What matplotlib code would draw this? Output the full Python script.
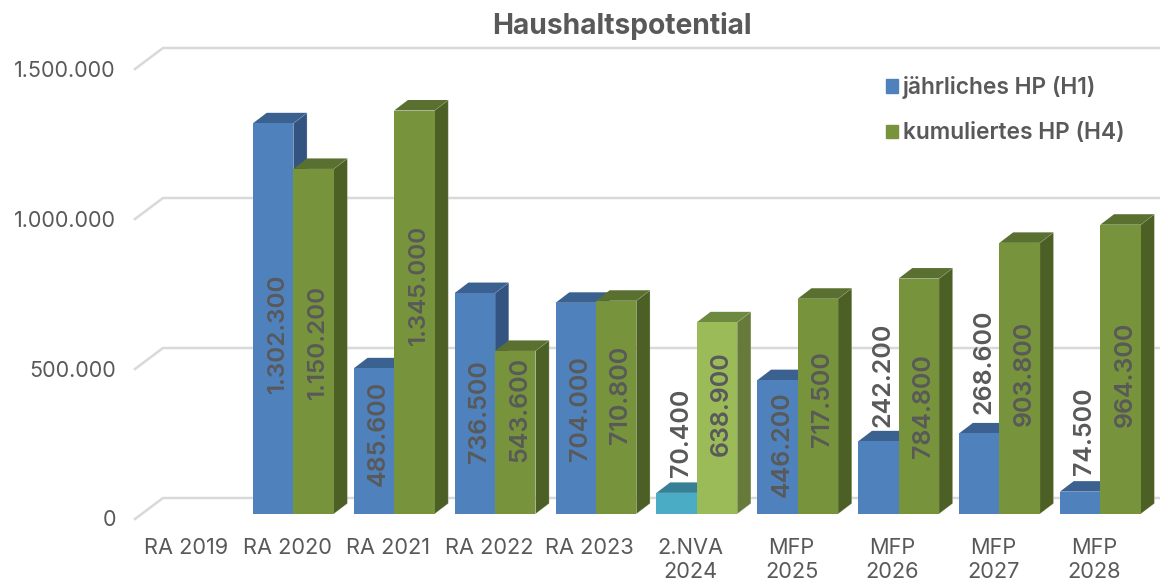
import matplotlib
matplotlib.use("Agg")
import matplotlib.pyplot as plt
from matplotlib.patches import Polygon, Patch

plt.rcParams["font.family"] = ["Inter", "DejaVu Sans"]

categories = ["RA 2019", "RA 2020", "RA 2021", "RA 2022", "RA 2023", "2.NVA\n2024",
              "MFP\n2025", "MFP\n2026", "MFP\n2027", "MFP\n2028"]
yearly = [0, 1302300, 485600, 736500, 704000, 70400, 446200, 242200, 268600, 74500]
cumulative = [0, 1150200, 1345000, 543600, 710800, 638900, 717500, 784800, 903800, 964300]
y_ticks = [0, 500000, 1000000, 1500000]

# where the value labels sit (value scale)
yearly_label_pos = [None, 603000, 268000, 343000, 350000, 270000, 233000, 463000, 507000, 277000]
cumulative_label_pos = [None, 572000, 763000, 350000, 397000, 367000, 383000, 360000, 470000, 467000]

BLUE = ("#4F81BD", "#3A6190", "#335480")
GREEN = ("#77933C", "#5A7030", "#4C5F24")
TEAL = ("#4BACC6", "#367F95", "#2F7086")
LIGHT_GREEN = ("#9BBB59", "#6E8A40", "#667B3A")
TEXT = "#595959"
GRID = "#D9D9D9"
EDGE = (1, 1, 1, 0.3)

# picture scale: pixels per category and per value unit
PX_CAT = 100.875
PX_VAL = 0.0003
ZERO_X = 192.4
ZERO_Y = 514

BAR_W = 0.4
DX = 13.8 / PX_CAT  # depth of a bar in x units
DY = 10.5 / PX_VAL  # depth of a bar in value units


def fmt(v):
    return f"{v:,}".replace(",", ".")


def draw_bar(ax, left, value, colors):
    front, top, side = colors
    ax.add_patch(Polygon([(left + BAR_W, 0), (left + BAR_W + DX, DY), (left + BAR_W + DX, value + DY),
                          (left + BAR_W, value)], facecolor=side, edgecolor=EDGE, lw=0.6, zorder=3))
    ax.add_patch(Polygon([(left, value), (left + BAR_W, value), (left + BAR_W + DX, value + DY),
                          (left + DX, value + DY)], facecolor=top, edgecolor="none", zorder=3))
    ax.bar(left, value, width=BAR_W, align="edge", color=front, zorder=3)


def draw_label(ax, x, pos, value):
    # the seven digit labels are narrower in the original font
    size = 17.4 if value >= 1000000 else 18
    ax.text(x, pos, fmt(value), rotation=90, ha="center", va="center", color=TEXT, fontsize=size,
            fontweight="semibold", zorder=4)


def main():
    fig = plt.figure(figsize=(11.6, 5.82), dpi=100)
    ax = fig.add_axes([0, 0, 1, 1])
    ax.set_xlim(-ZERO_X / PX_CAT, (1160 - ZERO_X) / PX_CAT)
    ax.set_ylim((ZERO_Y - 582) / PX_VAL, ZERO_Y / PX_VAL)
    ax.axis("off")

    # back wall grid with the slanted floor part on the left
    x0 = (135 - ZERO_X) / PX_CAT
    x1 = (163 - ZERO_X) / PX_CAT
    for t in y_ticks:
        ax.plot([x0, x1, 10], [t - 5 / PX_VAL, t + 16 / PX_VAL, t + 16 / PX_VAL], color=GRID, lw=1.8, zorder=1)
        ax.text((116 - ZERO_X) / PX_CAT, t - 6.5 / PX_VAL, fmt(t), ha="right", va="center", color=TEXT, fontsize=15.5)

    for i, name in enumerate(categories):
        ax.text(i - 0.06, -24 / PX_VAL, name, ha="center", va="top", color=TEXT, fontsize=15.7, linespacing=1.25)
        if yearly[i] == 0:
            continue
        c1 = TEAL if i == 5 else BLUE
        c2 = LIGHT_GREEN if i == 5 else GREEN
        draw_bar(ax, i - BAR_W, yearly[i], c1)
        draw_bar(ax, i, cumulative[i], c2)
        draw_label(ax, i - BAR_W / 2 + 0.045, yearly_label_pos[i], yearly[i])
        draw_label(ax, i + BAR_W / 2 + 0.045, cumulative_label_pos[i], cumulative[i])

    ax.text((622 - ZERO_X) / PX_CAT, (ZERO_Y - 26) / PX_VAL, "Haushaltspotential", ha="center", va="center",
            color=TEXT, fontsize=20.3, fontweight="bold")

    handles = [Patch(color=BLUE[0], label="jährliches HP (H1)"), Patch(color=GREEN[0], label="kumuliertes HP (H4)")]
    ax.legend(handles=handles, loc="upper left", bbox_to_anchor=(886 / 1160, 1 - 76 / 582), frameon=False,
              borderpad=0, borderaxespad=0, handlelength=0.52, handleheight=0.52, handletextpad=0.22,
              labelspacing=1.03, prop={"size": 16.4, "weight": "semibold"}, labelcolor=TEXT)

    fig.savefig("out.png", dpi=100)


if __name__ == "__main__":
    main()
